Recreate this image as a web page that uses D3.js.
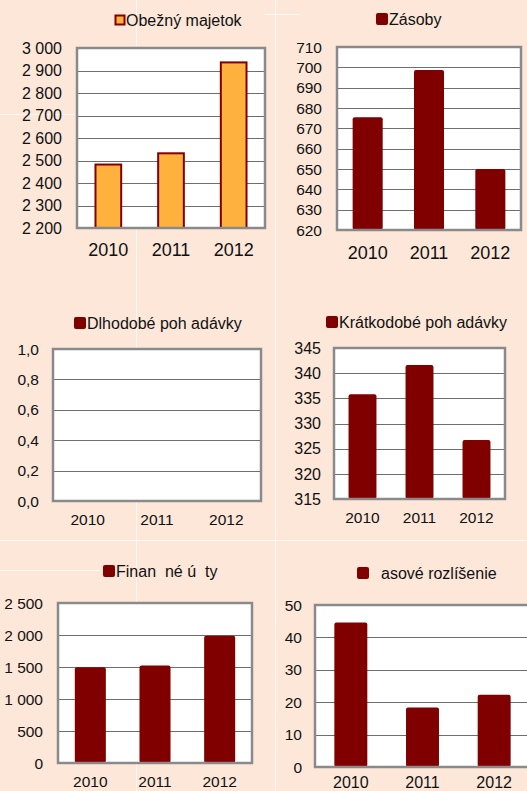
<!DOCTYPE html>
<html>
<head>
<meta charset="utf-8">
<script src="https://cdn.jsdelivr.net/npm/d3@7"></script>
<style>
  html, body { margin: 0; padding: 0; background: #fce7d9; }
  svg { display: block; font-family: "Liberation Sans", Arial, sans-serif; }
</style>
</head>
<body>
<div id="vis"></div>
<script>
// DATA
const years = ["2010", "2011", "2012"];
const obeznyMajetok = [2482, 2532, 2936];
const zasoby = [675.5, 698.7, 650];
const dlhodobePohladavky = [0, 0, 0];
const kratkodobePohladavky = [335.8, 341.6, 326.7];
const financneUcty = [1496, 1522, 1987];
const casoveRozlisenie = [44.6, 18.4, 22.3];

const obeznyTicks = [2200, 2300, 2400, 2500, 2600, 2700, 2800, 2900, 3000];
const zasobyTicks = [620, 630, 640, 650, 660, 670, 680, 690, 700, 710];
const dlhodobeTicks = [0, 0.2, 0.4, 0.6, 0.8, 1.0];
const kratkodobeTicks = [315, 320, 325, 330, 335, 340, 345];
const financneTicks = [0, 500, 1000, 1500, 2000, 2500];
const casoveTicks = [0, 10, 20, 30, 40, 50];

const W = 527, H = 791;
const darkRed = "#800000";
const orange = "#ffb13d";
const textCol = "#111";

const sk = d3.formatLocale({decimal: ",", thousands: "\u00a0", grouping: [3], currency: ["", ""]});
const fmtInt = sk.format(",d");
const fmtDec = sk.format(",.1f");

const svg = d3.select("#vis").append("svg")
  .attr("width", W).attr("height", H);

// background spreadsheet cell lines (faint)
const bg = svg.append("g").attr("stroke", "#fff").attr("stroke-opacity", 0.7).attr("stroke-width", 1);
[[136.5, 0, 136.5, 791], [275.5, 0, 275.5, 791]].forEach(l =>
  bg.append("line").attr("x1", l[0]).attr("y1", l[1]).attr("x2", l[2]).attr("y2", l[3]));
[[0, 114.5, 75, 114.5], [0, 540.5, 527, 540.5], [0, 570.5, 100, 570.5], [265, 14.5, 300, 14.5]].forEach(l =>
  bg.append("line").attr("x1", l[0]).attr("y1", l[1]).attr("x2", l[2]).attr("y2", l[3]));

function panel(o) {
  const g = svg.append("g");

  const x = d3.scaleBand().domain(years).range([o.left, o.right])
    .paddingInner(o.pad).paddingOuter(o.pad / 2);
  const y = d3.scaleLinear().domain(o.domain).range([o.bottom, o.top]);

  // plot area
  g.append("rect")
    .attr("x", o.left).attr("y", o.top)
    .attr("width", o.right - o.left).attr("height", o.bottom - o.top)
    .attr("fill", "#fff");

  // gridlines
  g.selectAll(".grid").data(o.ticks.slice(1, -1)).join("line")
    .attr("x1", o.left).attr("x2", o.right)
    .attr("y1", d => Math.round(y(d)) + 0.5).attr("y2", d => Math.round(y(d)) + 0.5)
    .attr("stroke", "#6e6e6e").attr("stroke-width", 1);

  // bars
  g.selectAll(".bar").data(o.values).join("rect")
    .attr("x", (d, i) => x(years[i]))
    .attr("width", x.bandwidth())
    .attr("y", d => y(Math.max(d, o.domain[0])))
    .attr("height", d => o.bottom - y(Math.max(d, o.domain[0])))
    .attr("rx", o.stroke ? 0 : 2)
    .attr("fill", o.fill)
    .attr("stroke", o.stroke || "none")
    .attr("stroke-width", o.stroke ? 2 : 0);

  // border
  g.append("rect")
    .attr("x", o.left).attr("y", o.top)
    .attr("width", o.right - o.left).attr("height", o.bottom - o.top)
    .attr("fill", "none").attr("stroke", "#8a8a8a").attr("stroke-width", 2.5);

  // y labels
  g.selectAll(".yl").data(o.ticks).join("text")
    .attr("x", o.labelX).attr("y", d => y(d))
    .attr("dy", "0.36em")
    .attr("text-anchor", "end")
    .attr("font-size", o.yFont)
    .attr("fill", textCol)
    .text(o.fmt);

  // x labels
  g.selectAll(".xl").data(years).join("text")
    .attr("x", d => x(d) + x.bandwidth() / 2)
    .attr("y", o.xLabelY).attr("dy", "0.36em")
    .attr("text-anchor", "middle")
    .attr("font-size", o.xFont)
    .attr("fill", textCol)
    .text(d => d);

  // legend
  const lg = o.legend;
  g.append("rect")
    .attr("x", lg.x).attr("y", lg.y - lg.size / 2)
    .attr("width", lg.size).attr("height", lg.size)
    .attr("rx", o.stroke ? 0 : 2)
    .attr("fill", o.fill)
    .attr("stroke", o.stroke || "none")
    .attr("stroke-width", o.stroke ? 2 : 0);
  g.append("text")
    .attr("x", lg.tx).attr("y", lg.y).attr("dy", "0.36em")
    .attr("font-size", 16).attr("fill", textCol)
    .style("white-space", "pre")
    .attr("xml:space", "preserve")
    .text(lg.text);
}

panel({
  left: 77, right: 265, top: 48, bottom: 228, pad: 0.59,
  domain: [2200, 3000], ticks: obeznyTicks, values: obeznyMajetok, fmt: fmtInt,
  fill: orange, stroke: darkRed, labelX: 62, yFont: 16, xFont: 18, xLabelY: 250,
  legend: {x: 115.5, y: 20, size: 9, tx: 126, text: "Obežný majetok"}
});

panel({
  left: 337, right: 521, top: 47, bottom: 230, pad: 0.51,
  domain: [620, 710], ticks: zasobyTicks, values: zasoby, fmt: fmtInt,
  fill: darkRed, labelX: 322, yFont: 15.5, xFont: 18, xLabelY: 253,
  legend: {x: 376, y: 19, size: 12, tx: 389, text: "Zásoby"}
});

panel({
  left: 53, right: 261, top: 349, bottom: 501, pad: 0.5,
  domain: [0, 1], ticks: dlhodobeTicks, values: dlhodobePohladavky, fmt: fmtDec,
  fill: darkRed, labelX: 39, yFont: 15.5, xFont: 15.5, xLabelY: 519,
  legend: {x: 74, y: 323, size: 12, tx: 87, text: "Dlhodobé poh adávky"}
});

panel({
  left: 334, right: 505, top: 348, bottom: 499, pad: 0.51,
  domain: [315, 345], ticks: kratkodobeTicks, values: kratkodobePohladavky, fmt: fmtInt,
  fill: darkRed, labelX: 321, yFont: 16, xFont: 15.5, xLabelY: 517,
  legend: {x: 326, y: 322, size: 12, tx: 339, text: "Krátkodobé poh adávky"}
});

panel({
  left: 58, right: 252, top: 603, bottom: 763, pad: 0.52,
  domain: [0, 2500], ticks: financneTicks, values: financneUcty, fmt: fmtInt,
  fill: darkRed, labelX: 43, yFont: 15.5, xFont: 15.5, xLabelY: 781,
  legend: {x: 103, y: 571, size: 12, tx: 116, text: "Finan  né ú  ty"}
});

panel({
  left: 315, right: 530, top: 605, bottom: 767, pad: 0.54,
  domain: [0, 50], ticks: casoveTicks, values: casoveRozlisenie, fmt: fmtInt,
  fill: darkRed, labelX: 302, yFont: 15.5, xFont: 16, xLabelY: 782,
  legend: {x: 357, y: 573, size: 12, tx: 381, text: "asové rozlíšenie"}
});
</script>
</body>
</html>
